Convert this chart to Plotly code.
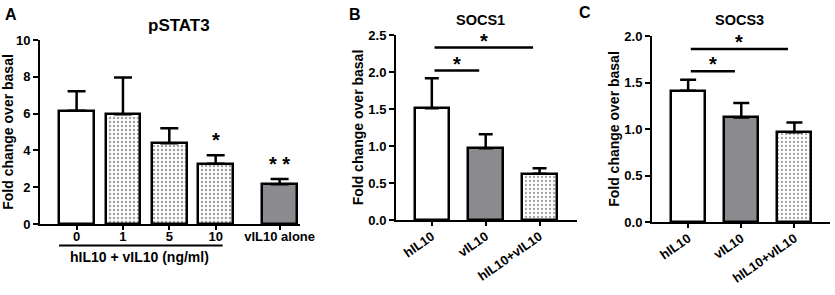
import plotly.graph_objects as go

# ---------------- data ----------------
a_labels = ["0", "1", "5", "10", "vIL10 alone"]
a_values = [6.15, 5.96, 4.39, 3.28, 2.16]
a_errors = [1.07, 2.0, 0.81, 0.45, 0.29]
a_stars = ["", "", "", "*", "* *"]

b_labels = ["hIL10", "vIL10", "hIL10+vIL10"]
b_values = [1.51, 0.97, 0.625]
b_errors = [0.405, 0.19, 0.075]

c_labels = ["hIL10", "vIL10", "hIL10+vIL10"]
c_values = [1.41, 1.125, 0.965]
c_errors = [0.12, 0.155, 0.105]

# significance brackets: (from index, to index, height, label)
b_sig = [(0, 1, 2.02, "*"), (0, 2, 2.33, "*")]
c_sig = [(0, 1, 1.62, "*"), (0, 2, 1.86, "*")]

# ---------------- styling ----------------
W, H = 835, 295
FONT = "Liberation Sans, Arial, sans-serif"
GRAY = "#8b8b8f"
DOT_FG = "#8a8a8a"

a_pos = [0, 1, 2, 3, 4.38]
a_fill = ["white", "white", "white", "white", GRAY]
a_shape = ["", ".", ".", ".", ""]
bc_fill = ["white", GRAY, "white"]
bc_shape = ["", "", "."]


def px_x(x):
    return x / W


def px_y(y):
    return 1 - y / H


fig = go.Figure()

fig.add_trace(go.Bar(
    x=a_pos, y=a_values, width=0.75,
    marker=dict(color=a_fill, line=dict(color="black", width=2.5),
                pattern=dict(shape=a_shape, fgcolor=DOT_FG, bgcolor="white",
                             size=4, solidity=0.3, fillmode="overlay")),
    error_y=dict(type="data", array=a_errors, arrayminus=[0] * 5, symmetric=False,
                 color="black", thickness=2.5, width=9),
    xaxis="x", yaxis="y", showlegend=False, hoverinfo="skip"))

fig.add_trace(go.Bar(
    x=list(range(len(b_labels))), y=b_values, width=0.64,
    marker=dict(color=bc_fill, line=dict(color="black", width=2.5),
                pattern=dict(shape=bc_shape, fgcolor="#b0b0b0", bgcolor="white",
                             size=4, solidity=0.25, fillmode="overlay")),
    error_y=dict(type="data", array=b_errors, arrayminus=[0] * 3, symmetric=False,
                 color="black", thickness=2.5, width=7),
    xaxis="x2", yaxis="y2", showlegend=False, hoverinfo="skip"))

fig.add_trace(go.Bar(
    x=list(range(len(c_labels))), y=c_values, width=0.64,
    marker=dict(color=bc_fill, line=dict(color="black", width=2.5),
                pattern=dict(shape=bc_shape, fgcolor="#b0b0b0", bgcolor="white",
                             size=4, solidity=0.25, fillmode="overlay")),
    error_y=dict(type="data", array=c_errors, arrayminus=[0] * 3, symmetric=False,
                 color="black", thickness=2.5, width=8),
    xaxis="x3", yaxis="y3", showlegend=False, hoverinfo="skip"))

axis_common = dict(showline=True, linecolor="black", linewidth=2, ticks="outside",
                   tickcolor="black", tickwidth=2, showgrid=False, zeroline=False,
                   automargin=False,
                   tickfont=dict(family=FONT, size=13, color="black", weight="bold"))
ytitle = dict(text="Fold change over basal",
              font=dict(family=FONT, size=14, color="black", weight="bold"))

fig.update_layout(
    template="none",
    width=W, height=H, margin=dict(l=0, r=0, t=0, b=0, pad=0, autoexpand=False),
    paper_bgcolor="white", plot_bgcolor="white",
    font=dict(family=FONT, color="black", weight="bold"),
    bargap=0,
    xaxis=dict(domain=[px_x(40), px_x(300)], range=[-0.79, 4.82], anchor="y",
               tickvals=a_pos, ticktext=a_labels, ticklen=4, ticklabelstandoff=-5,
               **axis_common),
    yaxis=dict(domain=[px_y(224), px_y(40)], range=[0, 10], anchor="x",
               tickvals=[0, 2, 4, 6, 8, 10], ticklen=5, title=dict(standoff=3, **ytitle),
               **axis_common),
    xaxis2=dict(domain=[px_x(396), px_x(577)], range=[-0.665, 2.695], anchor="y2",
                tickvals=[0, 1, 2], ticktext=b_labels, tickangle=-35, ticklen=4,
                ticklabelstandoff=-2, **axis_common),
    yaxis2=dict(domain=[px_y(220), px_y(35)], range=[0, 2.5], anchor="x2",
                tickvals=[0, 0.5, 1, 1.5, 2, 2.5], tickformat=".1f", ticklen=5,
                title=dict(standoff=1, **ytitle), **axis_common),
    xaxis3=dict(domain=[px_x(652), px_x(830)], range=[-0.68, 2.67], anchor="y3",
                tickvals=[0, 1, 2], ticktext=c_labels, tickangle=-35, ticklen=4,
                ticklabelstandoff=-2, **axis_common),
    yaxis3=dict(domain=[px_y(222), px_y(36)], range=[0, 2.0], anchor="x3",
                tickvals=[0, 0.5, 1, 1.5, 2], tickformat=".1f", ticklen=5,
                title=dict(standoff=1, **ytitle), **axis_common),
)

ann = []
# panel letters and titles
for letter, x, y in [("A", 11, 14), ("B", 355, 14), ("C", 585, 13)]:
    ann.append(dict(text=letter, x=px_x(x), y=px_y(y), xref="paper", yref="paper",
                    xanchor="center", yanchor="middle", showarrow=False,
                    font=dict(family=FONT, size=16, color="black", weight="bold")))
for title, x, y, fs in [("pSTAT3", 179, 25, 17), ("SOCS1", 480, 20, 14.5),
                        ("SOCS3", 739, 20, 14.5)]:
    ann.append(dict(text=title, x=px_x(x), y=px_y(y), xref="paper", yref="paper",
                    xanchor="center", yanchor="middle", showarrow=False,
                    font=dict(family=FONT, size=fs, color="black", weight="bold")))

# panel A stars
for xi, v, e, s in zip(a_pos, a_values, a_errors, a_stars):
    if s:
        ann.append(dict(text=s, x=xi, y=v + e, xref="x", yref="y",
                        xanchor="center", yanchor="bottom", yshift=2, showarrow=False,
                        font=dict(family=FONT, size=20, color="black", weight="bold")))

# panel A group label with underline
ann.append(dict(text="hIL10 + vIL10 (ng/ml)", x=1.36, y=px_y(257), xref="x", yref="paper",
                xanchor="center", yanchor="middle", showarrow=False,
                font=dict(family=FONT, size=14, color="black", weight="bold")))
shapes = [dict(type="line", xref="x", yref="paper", x0=-0.38, x1=3.15,
               y0=px_y(245.5), y1=px_y(245.5), line=dict(color="black", width=2))]

# significance brackets B and C
for sig, xr, yr in [(b_sig, "x2", "y2"), (c_sig, "x3", "y3")]:
    for i0, i1, h, s in sig:
        shapes.append(dict(type="line", xref=xr, yref=yr, x0=i0 + 0.05, x1=i1 - 0.12,
                           y0=h, y1=h, line=dict(color="black", width=2.5)))
        ann.append(dict(text=s, x=(i0 + 0.05 + i1 - 0.12) / 2, y=h, xref=xr, yref=yr,
                        xanchor="center", yanchor="bottom", yshift=-6, showarrow=False,
                        font=dict(family=FONT, size=20, color="black", weight="bold")))

fig.update_layout(annotations=ann, shapes=shapes)
fig.write_html("out.html", config={"displayModeBar": False},
               post_script="document.body.style.margin='0px';")
